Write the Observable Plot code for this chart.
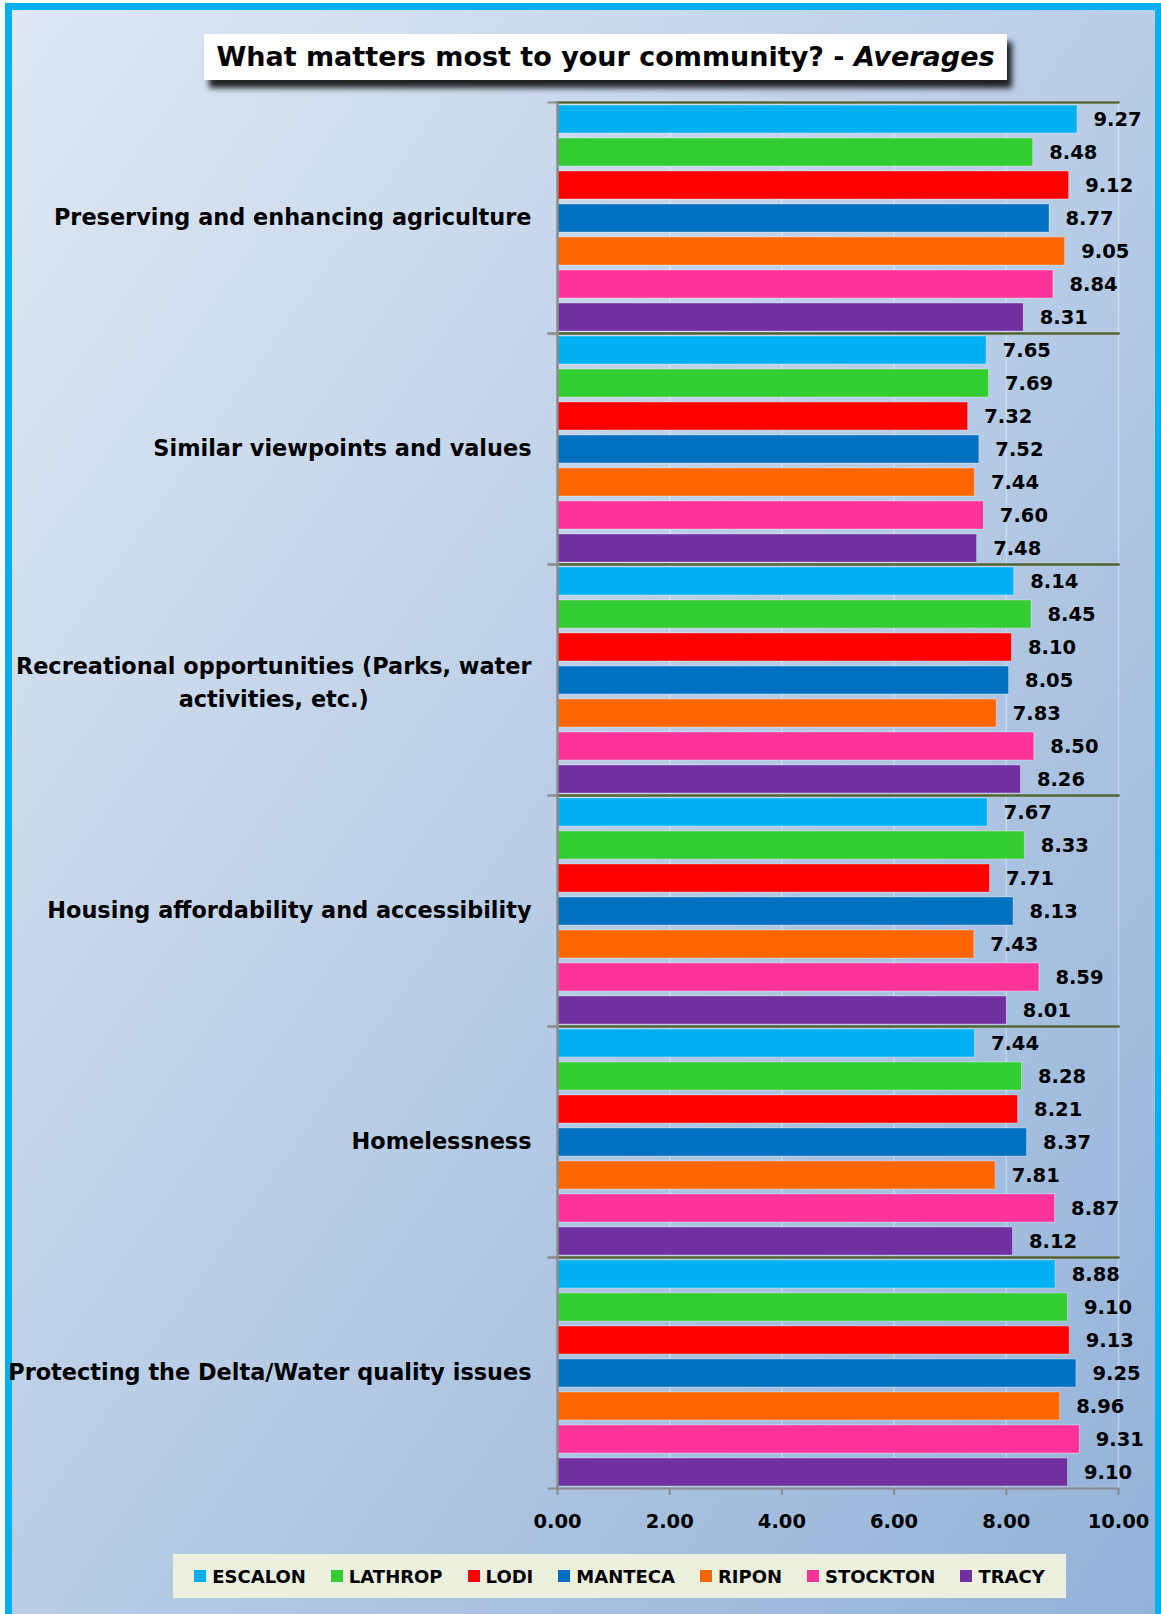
<!DOCTYPE html>
<html><head><meta charset="utf-8">
<script src="https://cdn.jsdelivr.net/npm/d3@7"></script>
<script src="https://cdn.jsdelivr.net/npm/@observablehq/plot@0.6"></script>
<style>
body{margin:0;width:1161px;height:1614px;position:relative;overflow:hidden;background:#fff;font-family:"DejaVu Sans",sans-serif;}
#frame{position:absolute;left:5px;top:3px;width:1143px;height:1620px;border-left:7px solid #00b0f0;border-top:7px solid #00b0f0;border-right:6px solid #00b0f0;background:linear-gradient(to bottom right,#dfe8f4,#93b2d8);}
#title{position:absolute;left:204px;top:34px;width:803px;height:46px;background:#fff;box-shadow:5px 8px 6px rgba(0,0,0,0.85);text-align:center;line-height:46px;font-size:27px;font-weight:bold;color:#000;white-space:nowrap;}
#chart{position:absolute;left:0;top:0;}
#legend{position:absolute;left:173px;top:1554px;width:893px;height:44px;background:#ebf0df;display:flex;justify-content:center;align-items:center;gap:25px;font-size:18px;font-weight:bold;}
#legend .it{display:flex;align-items:center;}
#legend .sw{width:12px;height:12px;margin-right:6px;}
</style></head>
<body>
<div id="frame"></div>
<div id="title">What matters most to your community? - <i>Averages</i></div>
<div id="chart"></div>
<div id="legend"></div>
<script>
const groups = [
  "Preserving and enhancing agriculture",
  "Similar viewpoints and values",
  "Recreational opportunities (Parks, water\nactivities, etc.)",
  "Housing affordability and accessibility",
  "Homelessness",
  "Protecting the Delta/Water quality issues"
];
const cities = ["ESCALON","LATHROP","LODI","MANTECA","RIPON","STOCKTON","TRACY"];
const cityColors = ["#00b0f0","#33cc33","#ff0000","#0070c0","#ff6600","#ff3399","#7030a0"];
const agriculture = [9.27, 8.48, 9.12, 8.77, 9.05, 8.84, 8.31];
const viewpoints  = [7.65, 7.69, 7.32, 7.52, 7.44, 7.60, 7.48];
const recreation  = [8.14, 8.45, 8.10, 8.05, 7.83, 8.50, 8.26];
const housing     = [7.67, 8.33, 7.71, 8.13, 7.43, 8.59, 8.01];
const homeless    = [7.44, 8.28, 8.21, 8.37, 7.81, 8.87, 8.12];
const delta       = [8.88, 9.10, 9.13, 9.25, 8.96, 9.31, 9.10];
const xTicks = [0, 2, 4, 6, 8, 10];

const series = [agriculture, viewpoints, recreation, housing, homeless, delta];
const data = [];
groups.forEach((g, i) => cities.forEach((c, j) => data.push({group: g, city: c, value: series[i][j]})));

const FONT = '"DejaVu Sans", sans-serif';
const labelSize = 22.4;
const single = groups.filter(g => !g.includes("\n"));
const multi = groups.filter(g => g.includes("\n"));
const ctx = document.createElement("canvas").getContext("2d");
ctx.font = `bold ${labelSize}px ${FONT}`;
const multiW = d3.max(multi.flatMap(g => g.split("\n")), s => ctx.measureText(s).width) || 0;

const gap = 26;
const plot = Plot.plot({
  width: 1161,
  height: 1550,
  marginTop: 101,
  marginBottom: 61,
  marginLeft: 557,
  marginRight: 43,
  style: {background: "transparent", fontFamily: FONT},
  x: {domain: [0, 10], axis: null},
  y: {domain: cities, paddingInner: 0.16, paddingOuter: 0.08, axis: null},
  fy: {domain: groups, padding: 0, axis: null},
  color: {domain: cities, range: cityColors},
  marks: [
    Plot.gridX(xTicks, {stroke: "#ffffff", strokeOpacity: 0.35, strokeWidth: 1.5}),
    Plot.frame({anchor: "bottom", stroke: "#8a8a8a", strokeWidth: 2, insetLeft: -9}),
    Plot.frame({anchor: "top", stroke: "#8a8a8a", strokeWidth: 2, insetLeft: -9}),
    Plot.frame({anchor: "top", stroke: "#4f6228", strokeWidth: 2}),
    Plot.barX(data, {x: "value", y: "city", fy: "group", fill: "city", stroke: "#ffffff", strokeOpacity: 0.35, strokeWidth: 1}),
    Plot.frame({anchor: "left", stroke: "#8a8a8a", strokeWidth: 2.5}),
    Plot.text(data, {x: "value", y: "city", fy: "group", text: d => d3.format(".2f")(d.value), textAnchor: "start", dx: 16, fontSize: 19.5, fontWeight: "bold", fill: "#000"}),
    Plot.text(single, {fy: d => d, frameAnchor: "left", text: d => d, textAnchor: "end", dx: -gap, fontSize: labelSize, fontWeight: "bold", fill: "#000"}),
    Plot.text(multi, {fy: d => d, frameAnchor: "left", text: d => d, textAnchor: "middle", dx: -gap - multiW / 2, fontSize: labelSize, fontWeight: "bold", fill: "#000", lineHeight: 1.45}),
    Plot.axisX(xTicks, {anchor: "bottom", tickSize: 7, tickPadding: 19, stroke: "#8a8a8a", strokeWidth: 2, tickFormat: d3.format(".2f"), fontSize: 19.5, fontWeight: "bold", fill: "#000", color: "#000", label: null})
  ]
});
document.getElementById("chart").appendChild(plot);

const legend = d3.select("#legend");
cities.forEach((c, i) => {
  const it = legend.append("div").attr("class", "it");
  it.append("div").attr("class", "sw").style("background", cityColors[i]);
  it.append("span").text(c);
});
</script>
</body></html>
